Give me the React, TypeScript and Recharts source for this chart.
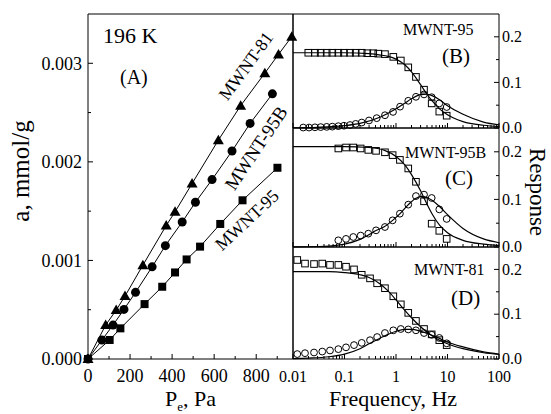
import React from "react";
import {ComposedChart, Line, XAxis, YAxis} from "recharts";

const serif = "'Liberation Serif', 'Times New Roman', Times, serif";

// (A) isotherms at 196 K: pressure in Pa, uptake in mmol/g
const p81 = [0, 84, 134, 176, 261, 372, 414, 495, 620, 726, 841, 906, 969];
const a81 = [0, 0.000344, 0.000496, 0.000638, 0.000952, 0.001354, 0.001493, 0.00178, 0.00222, 0.00257, 0.0029, 0.00309, 0.00327];
const p95B = [0, 66, 119, 171, 226, 305, 368, 448, 511, 590, 685, 771, 877];
const a95B = [0, 0.000192, 0.000344, 0.000503, 0.000676, 0.000935, 0.00115, 0.00139, 0.00159, 0.00182, 0.00211, 0.00239, 0.00269];
const p95 = [0, 103, 154, 269, 353, 414, 469, 533, 629, 735, 901];
const a95 = [0, 0.000193, 0.000311, 0.000557, 0.000733, 0.000878, 0.00101, 0.00114, 0.00137, 0.00161, 0.00194];

const pressureTicks = [0, 100, 200, 300, 400, 500, 600, 700, 800, 900];
const pressureLabels = [0, 200, 400, 600, 800];
const uptakeTicks = [0, 0.0005, 0.001, 0.0015, 0.002, 0.0025, 0.003];
const uptakeLabels = [0, 0.001, 0.002, 0.003];

// (B)-(D) frequency response: squares = in-phase, circles = out-of-phase
const freqTicks = [0.01, 0.02, 0.03, 0.04, 0.05, 0.06, 0.07, 0.08, 0.09, 0.1, 0.2, 0.3, 0.4, 0.5, 0.6, 0.7, 0.8, 0.9,
    1, 2, 3, 4, 5, 6, 7, 8, 9, 10, 20, 30, 40, 50, 60, 70, 80, 90, 100];
const freqLabels = [0.01, 0.1, 1, 10, 100];
const respTicks = [0, 0.05, 0.1, 0.15, 0.2];
const respLabels = [0, 0.1, 0.2];

// MWNT-95
const bSqF = [0.0198, 0.0267, 0.0345, 0.0451, 0.058, 0.0759, 0.0977, 0.128, 0.165, 0.216, 0.277, 0.362, 0.453, 0.611, 0.887, 1.24, 1.73, 2.44, 3.5, 4.93, 6.93, 9.64];
const bSqR = [0.165, 0.165, 0.165, 0.165, 0.165, 0.165, 0.165, 0.165, 0.165, 0.165, 0.164, 0.164, 0.163, 0.162, 0.156, 0.148, 0.133, 0.112, 0.084, 0.054, 0.036, 0.027];
const bCiF = [0.0158, 0.0205, 0.0267, 0.0345, 0.0451, 0.058, 0.0759, 0.0977, 0.128, 0.165, 0.216, 0.299, 0.422, 0.611, 0.875, 1.2, 1.73, 2.44, 3.5, 4.93, 6.93, 9.64];
const bCiR = [0.001, 0.001, 0.0015, 0.002, 0.0025, 0.003, 0.004, 0.005, 0.0065, 0.009, 0.012, 0.0165, 0.0216, 0.028, 0.0353, 0.0468, 0.0597, 0.0684, 0.0736, 0.0675, 0.054, 0.046];
const bFitInF = [0.01, 0.1, 0.3, 0.5, 0.7, 1, 1.5, 2, 3, 4, 5, 7, 10, 20, 50, 100];
const bFitInR = [0.165, 0.165, 0.163, 0.16, 0.157, 0.151, 0.138, 0.123, 0.095, 0.074, 0.06, 0.042, 0.029, 0.014, 0.006, 0.003];
const bFitOutF = [0.01, 0.03, 0.1, 0.2, 0.5, 1, 1.5, 2, 3, 4, 5, 7, 10, 20, 50, 100];
const bFitOutR = [0.0005, 0.0015, 0.005, 0.01, 0.024, 0.042, 0.055, 0.064, 0.073, 0.074, 0.071, 0.062, 0.049, 0.03, 0.013, 0.007];

// MWNT-95B
const cF = [0.0759, 0.107, 0.148, 0.206, 0.29, 0.41, 0.61, 0.86, 1.19, 1.73, 2.44, 3.5, 4.93, 6.93, 9.64];
const cSqR = [0.207, 0.209, 0.209, 0.207, 0.204, 0.202, 0.199, 0.193, 0.183, 0.165, 0.137, 0.096, 0.049, 0.034, 0.017];
const cCiR = [0.014, 0.017, 0.021, 0.024, 0.028, 0.035, 0.042, 0.056, 0.07, 0.089, 0.107, 0.11, 0.103, 0.079, 0.059];
const cFitInF = [0.01, 0.1, 0.3, 0.6, 1, 1.5, 2, 3, 4, 5, 7, 10, 20, 50, 100];
const cFitInR = [0.211, 0.211, 0.209, 0.203, 0.19, 0.172, 0.152, 0.118, 0.09, 0.07, 0.046, 0.03, 0.014, 0.006, 0.003];
const cFitOutF = [0.01, 0.03, 0.05, 0.1, 0.2, 0.3, 0.4, 0.6, 0.86, 1.2, 1.7, 2.4, 3, 3.5, 4, 5, 7, 10, 20, 50, 100];
const cFitOutR = [0.0003, 0.001, 0.002, 0.006, 0.016, 0.026, 0.034, 0.043, 0.056, 0.07, 0.088, 0.102, 0.106, 0.106, 0.104, 0.098, 0.085, 0.068, 0.039, 0.017, 0.009];

// MWNT-81
const dF = [0.0121, 0.0171, 0.0256, 0.037, 0.0523, 0.0759, 0.107, 0.153, 0.216, 0.313, 0.43, 0.61, 0.887, 1.24, 1.73, 2.44, 3.5, 4.93, 6.93, 9.64];
const dSqR = [0.221, 0.213, 0.212, 0.213, 0.21, 0.21, 0.206, 0.2, 0.188, 0.18, 0.169, 0.158, 0.14, 0.122, 0.103, 0.085, 0.067, 0.055, 0.042, 0.031];
const dCiR = [0.011, 0.013, 0.0145, 0.0166, 0.019, 0.022, 0.026, 0.031, 0.036, 0.042, 0.049, 0.058, 0.064, 0.067, 0.066, 0.064, 0.058, 0.054, 0.047, 0.035];
const dFitInF = [0.01, 0.05, 0.1, 0.2, 0.3, 0.5, 0.7, 1, 1.5, 2, 3, 5, 7, 10, 20, 50, 100];
const dFitInR = [0.195, 0.195, 0.193, 0.188, 0.182, 0.167, 0.152, 0.132, 0.108, 0.092, 0.072, 0.052, 0.042, 0.034, 0.023, 0.014, 0.01];
const dFitOutF = [0.01, 0.02, 0.05, 0.1, 0.2, 0.3, 0.5, 0.7, 1, 1.5, 2, 3, 5, 7, 10, 20, 50, 100];
const dFitOutR = [0.001, 0.002, 0.005, 0.011, 0.023, 0.034, 0.047, 0.055, 0.062, 0.066, 0.066, 0.062, 0.053, 0.046, 0.038, 0.027, 0.016, 0.011];

const iso = (ps: number[], as: number[]) => ps.map((p, i) => ({p, a: as[i]}));
const fr = (fs: number[], rs: number[]) => fs.map((f, i) => ({f, r: rs[i]}));

const axisStyle = {stroke: "#000", strokeWidth: 1};

// ticks drawn inward, labels only on the majors
const makeTick = (side: string, majors: number[], showLabels: boolean, fmt: (v: number) => string, fontSize: number, offset: number) =>
    (props: any) => {
        const {x, y, payload, index} = props;
        const v = payload.value;
        const major = majors.includes(v);
        const len = major ? 5 : 3;
        if (side === "bottom") {
            return (
                <g key={index}>
                    <line x1={x} x2={x} y1={y} y2={y - len} stroke="#000"/>
                    {showLabels && major &&
                        <text x={x} y={y + offset} textAnchor="middle" fontSize={fontSize} fontFamily={serif} fill="#000">{fmt(v)}</text>}
                </g>
            );
        }
        if (side === "left") {
            return (
                <g key={index}>
                    <line x1={x} x2={x + len} y1={y} y2={y} stroke="#000"/>
                    {showLabels && major &&
                        <text x={x - offset} y={y} dy="0.35em" textAnchor="end" fontSize={fontSize} fontFamily={serif} fill="#000">{fmt(v)}</text>}
                </g>
            );
        }
        return (
            <g key={index}>
                <line x1={x} x2={x - len} y1={y} y2={y} stroke="#000"/>
                {showLabels && major &&
                    <text x={x + offset} y={y} dy="0.32em" textAnchor="start" fontSize={fontSize} fontFamily={serif} fill="#000">{fmt(v)}</text>}
            </g>
        );
    };

const triangleDot = (p: any) => {
    const {cx, cy, index} = p;
    if (cx == null || cy == null) return <g key={index}/>;
    return <path key={index} d={`M${cx},${cy - 5.5}L${cx + 5.5},${cy + 4}L${cx - 5.5},${cy + 4}Z`} fill="#000"/>;
};
const circleDot = (p: any) => {
    const {cx, cy, index} = p;
    if (cx == null || cy == null) return <g key={index}/>;
    return <circle key={index} cx={cx} cy={cy} r={4.5} fill="#000"/>;
};
const squareDot = (p: any) => {
    const {cx, cy, index} = p;
    if (cx == null || cy == null) return <g key={index}/>;
    return <rect key={index} x={cx - 4} y={cy - 4} width={8} height={8} fill="#000"/>;
};
const openSquare = (p: any) => {
    const {cx, cy, index} = p;
    if (cx == null || cy == null) return <g key={index}/>;
    return <rect key={index} x={cx - 3.3} y={cy - 3.3} width={6.6} height={6.6} fill="none" stroke="#000" strokeWidth={1}/>;
};
const openCircle = (p: any) => {
    const {cx, cy, index} = p;
    if (cx == null || cy == null) return <g key={index}/>;
    return <circle key={index} cx={cx} cy={cy} r={3.4} fill="none" stroke="#000" strokeWidth={1}/>;
};

function IsothermPanel() {
    return (
        <ComposedChart width={551} height={414} margin={{top: 13, right: 257, bottom: 25, left: 0}}>
            <XAxis xAxisId="b" type="number" dataKey="p" domain={[0, 975]} ticks={pressureTicks} interval={0} height={30}
                   axisLine={axisStyle} tickLine={false} tickSize={0} tickMargin={0}
                   tick={makeTick("bottom", pressureLabels, true, (v) => String(v), 18, 23)}/>
            <XAxis xAxisId="t" orientation="top" type="number" domain={[0, 975]} ticks={[0, 975]} height={1}
                   axisLine={axisStyle} tickLine={false} tick={false}/>
            <YAxis yAxisId="l" type="number" domain={[0, 0.0035]} ticks={uptakeTicks} interval={0} width={88}
                   axisLine={axisStyle} tickLine={false} tickSize={0} tickMargin={0}
                   tick={makeTick("left", uptakeLabels, true, (v) => v.toFixed(3), 18, 6)}/>
            <YAxis yAxisId="r" orientation="right" type="number" domain={[0, 0.0035]} ticks={[0, 0.0035]} width={1}
                   axisLine={axisStyle} tickLine={false} tick={false}/>
            <Line xAxisId="b" yAxisId="l" data={iso(p81, a81)} dataKey="a" type="linear" stroke="#000" strokeWidth={1}
                  dot={triangleDot} activeDot={false} isAnimationActive={false}/>
            <Line xAxisId="b" yAxisId="l" data={iso(p95B, a95B)} dataKey="a" type="linear" stroke="#000" strokeWidth={1}
                  dot={circleDot} activeDot={false} isAnimationActive={false}/>
            <Line xAxisId="b" yAxisId="l" data={iso(p95, a95)} dataKey="a" type="linear" stroke="#000" strokeWidth={1}
                  dot={squareDot} activeDot={false} isAnimationActive={false}/>
            <text x={103} y={43} fontSize={22} fontFamily={serif}>196 K</text>
            <text x={120} y={84} fontSize={20} fontFamily={serif}>(A)</text>
            <text x={246} y={66} fontSize={18} fontFamily={serif} textAnchor="middle" dominantBaseline="central"
                  transform="rotate(-54 246 66)">MWNT-81</text>
            <text x={256} y={148} fontSize={19} fontFamily={serif} textAnchor="middle" dominantBaseline="central"
                  transform="rotate(-56 256 148)">MWNT-95B</text>
            <text x={247} y={220} fontSize={18} fontFamily={serif} textAnchor="middle" dominantBaseline="central"
                  transform="rotate(-43 247 220)">MWNT-95</text>
            <text x={20} y={171} fontSize={25} fontFamily={serif} textAnchor="middle" dominantBaseline="central"
                  transform="rotate(-90 20 171)">a, mmol/g</text>
            <text x={165} y={406} fontSize={22} fontFamily={serif}>P<tspan fontSize={13} dy={5}>e</tspan><tspan dy={-5}>, Pa</tspan></text>
        </ComposedChart>
    );
}

type PanelProps = {
    top: number;
    bottom: number;
    squares: { f: number, r: number }[];
    circles: { f: number, r: number }[];
    fitIn: { f: number, r: number }[];
    fitOut: { f: number, r: number }[];
    freqAxis: boolean;
    children?: React.ReactNode;
};

function ResponsePanel({top, bottom, squares, circles, fitIn, fitOut, freqAxis, children}: PanelProps) {
    const xh = freqAxis ? 30 : 1;
    return (
        <ComposedChart width={551} height={414} margin={{top: top - 1, right: 7, bottom: 414 - bottom - xh, left: 292}}>
            <XAxis xAxisId="b" type="number" dataKey="f" scale="log" domain={[0.01, 100]} ticks={freqTicks} interval={0}
                   height={xh} axisLine={axisStyle} tickLine={false} tickSize={0} tickMargin={0}
                   tick={makeTick("bottom", freqLabels, freqAxis, (v) => String(v), 16, 23)}/>
            <XAxis xAxisId="t" orientation="top" type="number" domain={[0, 1]} ticks={[0, 1]} height={1}
                   axisLine={axisStyle} tickLine={false} tick={false}/>
            <YAxis yAxisId="l" type="number" domain={[0, 0.25]} ticks={[0, 0.25]} width={1}
                   axisLine={axisStyle} tickLine={false} tick={false}/>
            <YAxis yAxisId="r" orientation="right" type="number" domain={[0, 0.25]} ticks={respTicks} interval={0} width={45}
                   axisLine={axisStyle} tickLine={false} tickSize={0} tickMargin={0}
                   tick={makeTick("right", respLabels, true, (v) => v.toFixed(1), 16, 3)}/>
            <Line xAxisId="b" yAxisId="r" data={fitIn} dataKey="r" type="monotone" stroke="#000" strokeWidth={1.2}
                  dot={false} activeDot={false} isAnimationActive={false}/>
            <Line xAxisId="b" yAxisId="r" data={fitOut} dataKey="r" type="monotone" stroke="#000" strokeWidth={1.2}
                  dot={false} activeDot={false} isAnimationActive={false}/>
            <Line xAxisId="b" yAxisId="r" data={squares} dataKey="r" stroke="none" dot={openSquare} activeDot={false}
                  isAnimationActive={false}/>
            <Line xAxisId="b" yAxisId="r" data={circles} dataKey="r" stroke="none" dot={openCircle} activeDot={false}
                  isAnimationActive={false}/>
            {children}
        </ComposedChart>
    );
}

export default function App() {
    const layer: React.CSSProperties = {position: "absolute", left: 0, top: 0};
    return (
        <div style={{position: "relative", width: 551, height: 414, background: "#fff"}}>
            <style>{"body{margin:0}"}</style>
            <div style={layer}><IsothermPanel/></div>
            <div style={layer}>
                <ResponsePanel top={14} bottom={128} squares={fr(bSqF, bSqR)} circles={fr(bCiF, bCiR)}
                               fitIn={fr(bFitInF, bFitInR)} fitOut={fr(bFitOutF, bFitOutR)} freqAxis={false}>
                    <text x={403} y={35} fontSize={16} fontFamily={serif}>MWNT-95</text>
                    <text x={442} y={63} fontSize={21} fontFamily={serif}>(B)</text>
                </ResponsePanel>
            </div>
            <div style={layer}>
                <ResponsePanel top={128} bottom={247} squares={fr(cF, cSqR)} circles={fr(cF, cCiR)}
                               fitIn={fr(cFitInF, cFitInR)} fitOut={fr(cFitOutF, cFitOutR)} freqAxis={false}>
                    <text x={405} y={158} fontSize={16} fontFamily={serif}>MWNT-95B</text>
                    <text x={445} y={185} fontSize={21} fontFamily={serif}>(C)</text>
                    <text x={537} y={192} fontSize={23} fontFamily={serif} textAnchor="middle" dominantBaseline="central"
                          transform="rotate(90 537 192)">Response</text>
                </ResponsePanel>
            </div>
            <div style={layer}>
                <ResponsePanel top={247} bottom={359} squares={fr(dF, dSqR)} circles={fr(dF, dCiR)}
                               fitIn={fr(dFitInF, dFitInR)} fitOut={fr(dFitOutF, dFitOutR)} freqAxis={true}>
                    <text x={414} y={275} fontSize={16} fontFamily={serif}>MWNT-81</text>
                    <text x={451} y={305} fontSize={21} fontFamily={serif}>(D)</text>
                    <text x={393} y={406} fontSize={22} fontFamily={serif} textAnchor="middle">Frequency, Hz</text>
                </ResponsePanel>
            </div>
        </div>
    );
}
